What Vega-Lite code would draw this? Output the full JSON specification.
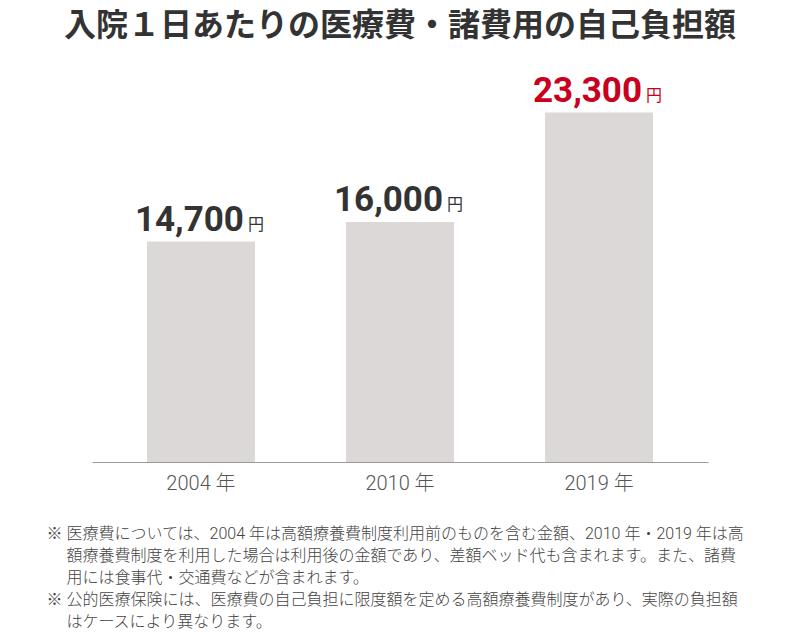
{
  "$schema": "https://vega.github.io/schema/vega-lite/v6.json",
  "width": 616,
  "height": 390,
  "autosize": {"type": "none"},
  "padding": {"left": 92, "top": 72, "right": 92, "bottom": 172},
  "background": "#ffffff",
  "title": {
    "text": "入院１日あたりの医療費・諸費用の自己負担額",
    "font": "Noto Sans CJK JP",
    "fontSize": 32,
    "fontWeight": "bold",
    "color": "#333333",
    "anchor": "middle",
    "offset": 29
  },
  "data": {
    "values": [
      {"year": "2004 年", "value": 14700},
      {"year": "2010 年", "value": 16000},
      {"year": "2019 年", "value": 23300}
    ]
  },
  "config": {"view": {"stroke": null}},
  "encoding": {
    "x": {
      "field": "year",
      "type": "ordinal",
      "sort": null,
      "scale": {"paddingInner": 0.457, "paddingOuter": 0.276},
      "axis": {
        "labelAngle": 0,
        "labelFont": "Roboto, Noto Sans CJK JP",
        "labelFontSize": 20,
        "labelFontWeight": 300,
        "labelColor": "#555555",
        "labelPadding": 11,
        "ticks": false,
        "domainColor": "#999999",
        "domainWidth": 1,
        "title": [
          "※ 医療費については、2004 年は高額療養費制度利用前のものを含む金額、2010 年・2019 年は高",
          "​　 額療養費制度を利用した場合は利用後の金額であり、差額ベッド代も含まれます。また、諸費",
          "​　 用には食事代・交通費などが含まれます。",
          "※ 公的医療保険には、医療費の自己負担に限度額を定める高額療養費制度があり、実際の負担額",
          "​　 はケースにより異なります。"
        ],
        "titleFont": "Roboto, Noto Sans CJK JP",
        "titleFontSize": 16,
        "titleFontWeight": 300,
        "titleColor": "#444444",
        "titleAlign": "left",
        "titleBaseline": "top",
        "titleAngle": 0,
        "titleX": -46,
        "titleY": 63,
        "titleLineHeight": 22
      }
    },
    "y": {
      "field": "value",
      "type": "quantitative",
      "scale": {"domain": [0, 26000]},
      "axis": null
    }
  },
  "layer": [
    {"mark": {"type": "bar", "color": "#ddd8d8"}},
    {
      "mark": {
        "type": "text",
        "align": "right",
        "baseline": "alphabetic",
        "dx": 43,
        "dy": -11,
        "font": "Roboto, Noto Sans CJK JP",
        "fontSize": 35,
        "fontWeight": "bold"
      },
      "encoding": {
        "text": {"field": "value", "type": "quantitative", "format": ","},
        "color": {
          "condition": {"test": "datum.year === '2019 年'", "value": "#c8001e"},
          "value": "#333333"
        }
      }
    },
    {
      "mark": {
        "type": "text",
        "align": "left",
        "baseline": "alphabetic",
        "dx": 47,
        "dy": -12,
        "font": "Noto Sans CJK JP",
        "fontSize": 16
      },
      "encoding": {
        "text": {"value": "円"},
        "color": {
          "condition": {"test": "datum.year === '2019 年'", "value": "#c8001e"},
          "value": "#333333"
        }
      }
    }
  ]
}
